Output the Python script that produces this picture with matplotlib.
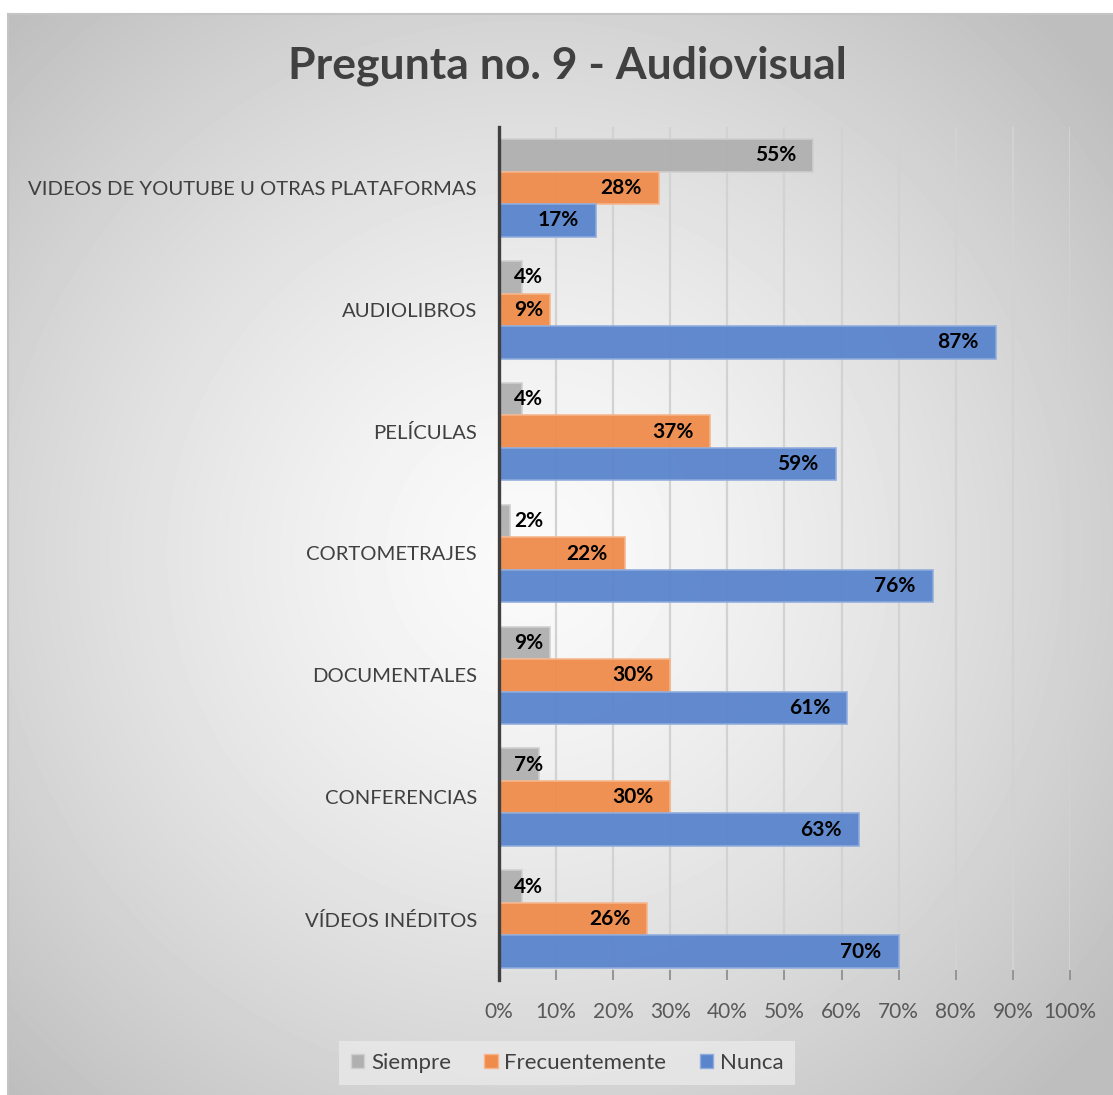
import numpy as np
import matplotlib.pyplot as plt
from matplotlib.patches import Patch

categorias = ["VIDEOS DE YOUTUBE U OTRAS PLATAFORMAS", "AUDIOLIBROS", "PELÍCULAS",
              "CORTOMETRAJES", "DOCUMENTALES", "CONFERENCIAS", "VÍDEOS INÉDITOS"]
siempre = [55, 4, 4, 2, 9, 7, 4]
frecuentemente = [28, 9, 37, 22, 30, 30, 26]
nunca = [17, 87, 59, 76, 61, 63, 70]
series = ["Siempre", "Frecuentemente", "Nunca"]
ticks = list(range(0, 101, 10))

colores = ["#b0b0b0", "#ef8c4b", "#5a84cc"]
bordes = ["#cfcfcf", "#f6b58b", "#8eabdd"]

plt.rcParams['font.family'] = ['Lato', 'DejaVu Sans']

W, H = 1113, 1095
fig = plt.figure(figsize=(W / 100, H / 100), dpi=100)
fig.patch.set_facecolor('white')

# fondo con degradado radial
bg = fig.add_axes([8 / W, 0, (W - 8) / W, (H - 14) / H])
yy, xx = np.mgrid[0:H - 14, 0:W - 8]
r = np.hypot(xx - 520, (yy - 540) * 1.0) / 760
gris = np.clip(250 - 62 * r ** 1.4, 190, 252) / 255
bg.imshow(gris, cmap='gray', vmin=0, vmax=1, aspect='auto', interpolation='bilinear')
bg.set_xticks([])
bg.set_yticks([])
for s in bg.spines.values():
    s.set_color('#c4c4c4')
    s.set_linewidth(1.5)
bg.spines['bottom'].set_visible(False)
bg.spines['right'].set_visible(False)

ax = fig.add_axes([499 / W, 1 - 980 / H, 571 / W, 853 / H])
ax.patch.set_alpha(0)

n = len(categorias)
y = np.arange(n)[::-1]
h = 0.267
valores = [siempre, frecuentemente, nunca]
offs = [h, 0, -h]

for vals, off, c, e in zip(valores, offs, colores, bordes):
    ax.barh(y + off, vals, height=h, color=c, edgecolor=e, linewidth=1.2, alpha=0.95, zorder=2)
    for yi, v in zip(y, vals):
        if v < 11:
            ax.text(2.6, yi + off, f"{v}%", ha='left', va='center', fontsize=15,
                    fontweight='bold', color='black', zorder=3)
        else:
            ax.text(v - 3, yi + off, f"{v}%", ha='right', va='center', fontsize=15,
                    fontweight='bold', color='black', zorder=3)

ax.set_xlim(0, 100)
ax.set_ylim(-0.5, n - 0.5)
ax.set_xticks(ticks)
ax.set_xticklabels([f"{t}%" for t in ticks], fontsize=15, color='#595959')
ax.set_yticks(y)
ax.set_yticklabels(categorias, fontsize=14.6, color='#404040')
ax.tick_params(axis='y', length=0, pad=16)
ax.tick_params(axis='x', direction='in', length=7, width=1.2, color='#8a8a8a', pad=16)
ax.grid(axis='x', color='#d2d2d2', linewidth=1.6, zorder=0)
ax.set_axisbelow(True)
for s in ['top', 'right', 'bottom']:
    ax.spines[s].set_visible(False)
ax.spines['left'].set_color('#404040')
ax.spines['left'].set_linewidth(2.4)
ax.spines['left'].set_zorder(4)

fig.text(567 / W, 1 - 66 / H, "Pregunta no. 9 - Audiovisual", ha='center', va='center',
         fontsize=32, fontweight='bold', color='#404040')

handles = [Patch(facecolor=c, edgecolor=e, label=s) for s, c, e in zip(series, colores, bordes)]
leg = fig.legend(handles=handles, loc='center', bbox_to_anchor=(567 / W, 1 - 1063 / H), ncol=3,
                 frameon=True, fontsize=16, handlelength=0.6, handleheight=0.6,
                 handletextpad=0.3, columnspacing=1.5, borderpad=0.55, fancybox=False)
leg.get_frame().set_facecolor('#e9e9e9')
leg.get_frame().set_edgecolor('none')
leg.get_frame().set_alpha(0.8)
for t in leg.get_texts():
    t.set_color('#404040')

fig.savefig('out.png', dpi=100)
